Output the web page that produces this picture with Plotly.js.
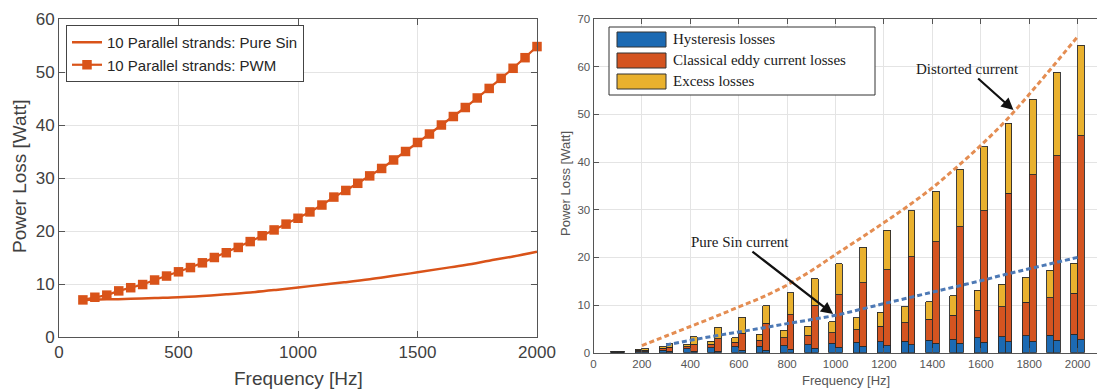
<!DOCTYPE html>
<html>
<head>
<meta charset="utf-8">
<script src="https://cdn.plot.ly/plotly-3.0.1.min.js"></script>
<style>html,body{margin:0;padding:0;background:#fff;overflow:hidden}#chart{width:1097px;height:389px}</style>
</head>
<body>
<div id="chart"></div>
<script>
// ---------- Left panel data ----------
const sinFreq = [100,200,300,400,500,600,700,800,900,1000,1100,1200,1300,1400,1500,1600,1700,1800,1900,2000];
const sinLoss = [7.0,7.1,7.2,7.35,7.5,7.75,8.05,8.4,8.85,9.35,9.85,10.35,10.9,11.55,12.2,12.9,13.6,14.4,15.2,16.1];
const pwmFreq = [100,150,200,250,300,350,400,450,500,550,600,650,700,750,800,850,900,950,1000,1050,1100,1150,1200,1250,1300,1350,1400,1450,1500,1550,1600,1650,1700,1750,1800,1850,1900,1950,2000];
const pwmLoss = [7.0,7.5,7.9,8.7,9.3,9.9,10.75,11.5,12.3,13.1,14.0,15.0,15.9,16.9,18.0,19.1,20.2,21.3,22.4,23.6,24.9,26.4,27.65,29.0,30.4,31.8,33.4,35.0,36.7,38.3,40.0,41.6,43.3,45.1,46.9,48.8,50.7,52.7,54.8];
const leftXTicks = [0,500,1000,1500,2000];
const leftYTicks = [0,10,20,30,40,50,60];

// ---------- Right panel data ----------
const barFreq = [100,200,300,400,500,600,700,800,900,1000,1100,1200,1300,1400,1500,1600,1700,1800,1900,2000];
const sinHyst   = [0.1,0.25,0.55,0.8,1.0,1.25,1.4,1.5,1.7,1.95,2.15,2.3,2.45,2.65,2.85,3.1,3.35,3.55,3.7,3.85];
const sinEddy   = [0.1,0.25,0.4,0.45,0.75,0.95,1.25,1.6,1.95,2.25,2.65,3.3,3.85,4.35,5.05,5.65,6.3,7.05,7.8,8.6];
const sinExcess = [0.1,0.25,0.35,0.55,0.7,0.9,1.2,1.65,1.9,2.3,2.55,2.9,3.3,3.7,4.0,4.4,4.75,5.2,5.8,6.3];
const pwmHyst   = [0.1,0.2,0.28,0.3,0.35,0.5,0.55,0.7,0.95,1.15,1.4,1.5,1.7,1.95,2.0,2.15,2.3,2.45,2.6,2.7];
const pwmEddy   = [0.15,0.35,0.82,1.5,2.55,3.55,5.6,7.3,9.05,11.05,13.3,15.85,18.4,21.35,24.4,27.6,31.1,34.85,38.7,42.8];
const pwmExcess = [0.1,0.3,0.75,1.55,2.4,3.4,3.75,4.6,5.55,6.45,7.45,8.35,9.65,10.6,12.1,13.45,14.7,15.9,17.5,19.0];
const distortedFreq = [200,300,400,500,600,700,800,900,1000,1100,1200,1300,1400,1500,1600,1700,1800,1900,2000];
const distortedTrend = [1.5,3.5,5.5,7.5,9.6,11.7,14.2,17.2,20.6,23.9,27.3,30.8,34.6,38.9,43.5,48.5,54.2,60.2,66.3];
const pureSinFreq = [300,400,500,600,700,800,900,1000,1100,1200,1300,1400,1500,1600,1700,1800,1900,2000];
const pureSinTrend = [1.6,2.6,3.5,4.35,5.2,6.1,6.95,7.85,9.05,10.3,11.5,12.7,13.9,15.1,16.4,17.6,18.8,20.0];
const rightXTicks = [0,200,400,600,800,1000,1200,1400,1600,1800,2000];
const rightYTicks = [0,10,20,30,40,50,60,70];
const lossNames = ['Hysteresis losses','Classical eddy current losses','Excess losses'];

// ---------- Style ----------
const W = 1097, H = 389;
const px = v => v / W;           // pixel -> paper x
const py = v => 1 - v / H;       // pixel -> paper y
const SANS = 'Liberation Sans, Arial, sans-serif';
const SERIF = 'Liberation Serif, Times New Roman, serif';
const ORANGE = '#D95319';
const lossColors = ['#1c6ab3', '#d45420', '#e9b12e'];
const barW = 28, barShift = 14;

const traces = [];
traces.push({
  x: sinFreq, y: sinLoss, type: 'scatter', mode: 'lines', name: '10 Parallel strands: Pure Sin',
  line: {color: ORANGE, width: 2.5, shape: 'spline'}, xaxis: 'x', yaxis: 'y', cliponaxis: false
});
traces.push({
  x: pwmFreq, y: pwmLoss, type: 'scatter', mode: 'lines+markers', name: '10 Parallel strands: PWM',
  line: {color: ORANGE, width: 2.2}, marker: {symbol: 'square', size: 9.5, color: ORANGE},
  xaxis: 'x', yaxis: 'y', cliponaxis: false
});

const sinParts = [sinHyst, sinEddy, sinExcess];
const pwmParts = [pwmHyst, pwmEddy, pwmExcess];
for (let k = 0; k < 3; k++) {
  traces.push({
    x: barFreq.map(f => f - barShift), y: sinParts[k], type: 'bar', width: barW,
    name: lossNames[k] + ' (Pure Sin)', showlegend: false, xaxis: 'x2', yaxis: 'y2',
    marker: {color: lossColors[k], line: {color: '#2a2a2a', width: 0.9}}
  });
}
for (let k = 0; k < 3; k++) {
  traces.push({
    x: barFreq.map(f => f + barShift), y: pwmParts[k], type: 'bar', width: barW,
    name: lossNames[k] + ' (PWM)', showlegend: false, xaxis: 'x2', yaxis: 'y2',
    marker: {color: lossColors[k], line: {color: '#2a2a2a', width: 0.9}}
  });
}
traces.push({
  x: distortedFreq, y: distortedTrend, type: 'scatter', mode: 'lines', showlegend: false,
  line: {color: '#e48d52', width: 3, dash: '5px,3px', shape: 'spline'}, xaxis: 'x2', yaxis: 'y2'
});
traces.push({
  x: pureSinFreq, y: pureSinTrend, type: 'scatter', mode: 'lines', showlegend: false,
  line: {color: '#4d79b5', width: 3, dash: '5px,3px', shape: 'spline'}, xaxis: 'x2', yaxis: 'y2'
});

const axisCommon = {
  showline: true, linecolor: '#555', linewidth: 1, ticks: 'inside', tickcolor: '#555',
  gridcolor: '#e4e4e4', gridwidth: 1, zeroline: false, fixedrange: true
};

const shapes = [];
const annotations = [];
// right-panel legend box (custom, wide colour patches)
shapes.push({type: 'rect', xref: 'paper', yref: 'paper', x0: px(609), x1: px(875), y0: py(95), y1: py(27),
  line: {color: '#333', width: 1}, fillcolor: '#fff', layer: 'above'});
const patchTop = [32, 53, 74];
const textMid = [38.5, 60, 80.5];
for (let k = 0; k < 3; k++) {
  shapes.push({type: 'rect', xref: 'paper', yref: 'paper', x0: px(617), x1: px(666),
    y0: py(patchTop[k] + 15), y1: py(patchTop[k]),
    line: {color: '#333', width: 1}, fillcolor: lossColors[k], layer: 'above'});
  annotations.push({xref: 'paper', yref: 'paper', x: px(671), y: py(textMid[k]), xanchor: 'left', yanchor: 'middle',
    text: lossNames[k], showarrow: false, font: {family: SERIF, size: 15, color: '#1a1a1a'}});
}
// arrows
annotations.push({xref: 'x2', yref: 'y2', x: 1735, y: 50.9, ax: -46, ay: -41, text: 'Distorted current',
  showarrow: true, arrowhead: 2, arrowsize: 1.1, arrowwidth: 2.2, arrowcolor: '#111',
  font: {family: SERIF, size: 15, color: '#1a1a1a'}});
annotations.push({xref: 'x2', yref: 'y2', x: 990, y: 8.1, ax: -93, ay: -72, text: 'Pure Sin current',
  showarrow: true, arrowhead: 2, arrowsize: 1.1, arrowwidth: 2.2, arrowcolor: '#111',
  font: {family: SERIF, size: 15, color: '#1a1a1a'}});
// axis titles
annotations.push({xref: 'paper', yref: 'paper', x: px(298), y: py(378), text: 'Frequency [Hz]', showarrow: false,
  xanchor: 'center', yanchor: 'middle', font: {family: SANS, size: 19, color: '#404040'}});
annotations.push({xref: 'paper', yref: 'paper', x: px(20), y: py(177), text: 'Power Loss [Watt]', showarrow: false,
  textangle: -90, xanchor: 'center', yanchor: 'middle', font: {family: SANS, size: 19, color: '#404040'}});
annotations.push({xref: 'paper', yref: 'paper', x: px(846), y: py(380), text: 'Frequency [Hz]', showarrow: false,
  xanchor: 'center', yanchor: 'middle', font: {family: SANS, size: 13, color: '#555'}});
annotations.push({xref: 'paper', yref: 'paper', x: px(565), y: py(184), text: 'Power Loss [Watt]', showarrow: false,
  textangle: -90, xanchor: 'center', yanchor: 'middle', font: {family: SANS, size: 13, color: '#555'}});

const layout = {
  width: W, height: H, margin: {l: 0, r: 0, t: 0, b: 0},
  paper_bgcolor: '#fff', plot_bgcolor: '#fff', barmode: 'stack', bargap: 0,
  showlegend: true,
  legend: {x: px(66), y: py(25), xanchor: 'left', yanchor: 'top', bgcolor: '#fff', traceorder: 'normal',
    bordercolor: '#444', borderwidth: 1, tracegroupgap: 0,
    font: {family: SANS, size: 15, color: '#262626'}},
  xaxis: Object.assign({}, axisCommon, {domain: [px(59), px(537)], range: [0, 2000], tickvals: leftXTicks,
    ticklen: 6, mirror: 'ticks', anchor: 'y', tickfont: {family: SANS, size: 17, color: '#404040'}}),
  yaxis: Object.assign({}, axisCommon, {domain: [py(337), py(19)], range: [0, 60], tickvals: leftYTicks,
    ticklen: 6, mirror: 'ticks', anchor: 'x', tickfont: {family: SANS, size: 17, color: '#404040'}}),
  xaxis2: Object.assign({}, axisCommon, {domain: [px(593.5), 1], range: [0, 2080], tickvals: rightXTicks,
    ticklen: 5, mirror: 'ticks', anchor: 'y2', tickfont: {family: SANS, size: 11.5, color: '#555'}}),
  yaxis2: Object.assign({}, axisCommon, {domain: [py(352.7), py(19)], range: [0, 70], tickvals: rightYTicks,
    ticklen: 5, mirror: false, anchor: 'x2', tickfont: {family: SANS, size: 11.5, color: '#555'}}),
  shapes: shapes, annotations: annotations
};

Plotly.newPlot('chart', traces, layout, {displayModeBar: false, staticPlot: true});
</script>
</body>
</html>
